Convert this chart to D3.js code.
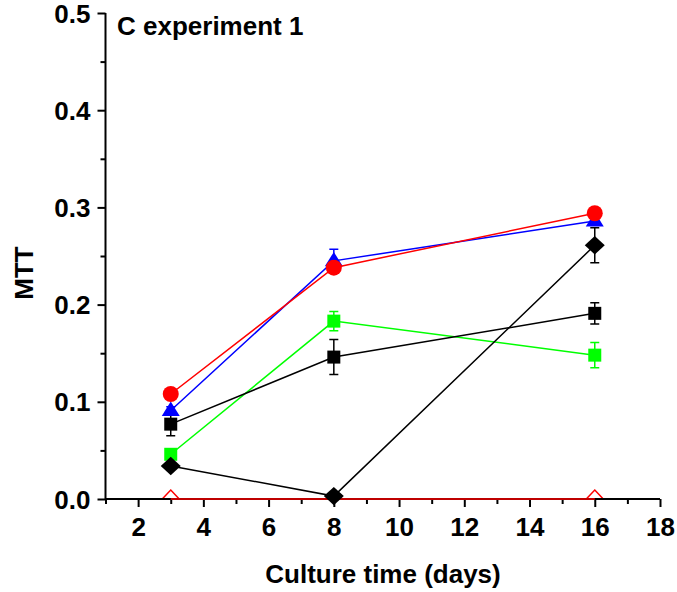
<!DOCTYPE html>
<html><head><meta charset="utf-8">
<script src="https://cdn.jsdelivr.net/npm/d3@7"></script>
<style>body{margin:0;background:#fff}text{font-family:"Liberation Sans",Arial,sans-serif;font-weight:bold}</style>
</head><body><svg id="c" width="677" height="592"></svg>
<script>
const days = [3, 8, 16];
const redCircle = [0.108, 0.238, 0.294];
const redCircleErr = [0.003, 0.004, 0.004];
const blueTri = [0.091, 0.245, 0.286];
const blueTriErr = [0.004, 0.012, 0.004];
const blackSq = [0.077, 0.146, 0.191];
const blackSqErr = [0.012, 0.018, 0.011];
const greenSq = [0.046, 0.183, 0.148];
const greenSqErr = [0.004, 0.010, 0.013];
const diamond = [0.034, 0.003, 0.261];
const diamondErr = [0.003, 0.002, 0.018];
const redOpenTri = [0, 0, 0];
const xTicks = [2, 4, 6, 8, 10, 12, 14, 16, 18];
const yTicks = [0.0, 0.1, 0.2, 0.3, 0.4, 0.5];

const svg = d3.select("#c");
const x = d3.scaleLinear().domain([1, 18]).range([105.5, 660]);
const y = d3.scaleLinear().domain([0, 0.5]).range([499, 13]);

svg.append("defs").append("clipPath").attr("id", "plot")
  .append("rect").attr("x", 0).attr("y", 0).attr("width", 677).attr("height", 498);

const isMajorY = d => Math.abs(d * 10 - Math.round(d * 10)) < 1e-6;

// axes
const xAxis = d3.axisBottom(x).tickValues(d3.range(1, 19)).tickSize(6)
  .tickFormat(d => xTicks.includes(d) ? d : "");
const gx = svg.append("g").attr("transform", "translate(0,499)").call(xAxis);
gx.select(".domain").attr("stroke-width", 2).attr("d", `M${x(1)},0H${x(18)}`);
gx.selectAll(".tick line").attr("stroke-width", 2)
  .attr("y2", d => xTicks.includes(d) ? 8 : 5);
gx.selectAll(".tick text").attr("font-size", 26).attr("dy", 0).attr("y", 37);

const yAxis = d3.axisLeft(y).tickValues(d3.range(0, 0.501, 0.05)).tickSize(6)
  .tickFormat(d => isMajorY(d) ? d3.format(".1f")(d) : "");
const gy = svg.append("g").attr("transform", "translate(105.5,0)").call(yAxis);
gy.select(".domain").attr("stroke-width", 2).attr("d", `M0,${y(0)}V${y(0.5)}`);
gy.selectAll(".tick line").attr("stroke-width", 2)
  .attr("x2", d => isMajorY(d) ? -8 : -5);
gy.selectAll(".tick text").attr("font-size", 26).attr("x", -15).attr("dy", "0.35em");

svg.append("text").attr("x", 117).attr("y", 35).attr("font-size", 26).text("C experiment 1");
svg.append("text").attr("transform", "translate(33,273) rotate(-90)").attr("text-anchor", "middle")
  .attr("font-size", 26).text("MTT");
svg.append("text").attr("x", 383).attr("y", 583).attr("text-anchor", "middle")
  .attr("font-size", 26).text("Culture time (days)");

// custom symbol types (size = full width in px)
const tri = { draw(ctx, s) { const h = s * 0.8; ctx.moveTo(0, -h * 0.62); ctx.lineTo(s / 2, h * 0.38); ctx.lineTo(-s / 2, h * 0.38); ctx.closePath(); } };
const sq = { draw(ctx, s) { ctx.rect(-s / 2, -s / 2, s, s); } };
const dia = { draw(ctx, s) { ctx.moveTo(0, -s * 0.46); ctx.lineTo(s / 2, 0); ctx.lineTo(0, s * 0.46); ctx.lineTo(-s / 2, 0); ctx.closePath(); } };
const circ = { draw(ctx, s) { ctx.moveTo(s / 2, 0); ctx.arc(0, 0, s / 2, 0, 2 * Math.PI); } };

const line = d3.line().x((d, i) => x(days[i])).y(d => y(d));
function series(vals, errs, color, shape, size, fill, clip) {
  const g = svg.append("g");
  g.append("path").attr("d", line(vals)).attr("fill", "none").attr("stroke", color).attr("stroke-width", 1.5);
  if (errs) vals.forEach((v, i) => {
    const cx = x(days[i]), e = errs[i];
    g.append("path").attr("d", `M${cx},${y(v - e)}V${y(v + e)}M${cx - 4.5},${y(v - e)}h9M${cx - 4.5},${y(v + e)}h9`)
      .attr("stroke", color).attr("stroke-width", 1.5).attr("fill", "none");
  });
  const mg = g.append("g");
  if (clip) mg.attr("clip-path", "url(#plot)");
  vals.forEach((v, i) => {
    mg.append("path").attr("transform", `translate(${x(days[i])},${y(v)})`)
      .attr("d", d3.symbol().type(shape).size(size)())
      .attr("fill", fill ? color : "#fff").attr("stroke", color).attr("stroke-width", fill ? 0 : 1.5);
  });
}
series(redOpenTri, null, "#ff0000", { draw(ctx, s) { ctx.moveTo(0, -9); ctx.lineTo(s / 2, 0); ctx.lineTo(-s / 2, 0); ctx.closePath(); } }, 17, false, true);
series(greenSq, greenSqErr, "#00ff00", sq, 13, true);
series(blackSq, blackSqErr, "#000000", sq, 13, true);
series(diamond, diamondErr, "#000000", dia, 20, true);
series(blueTri, blueTriErr, "#0000ff", tri, 18, true);
series(redCircle, redCircleErr, "#ff0000", circ, 16, true);
</script></body></html>
